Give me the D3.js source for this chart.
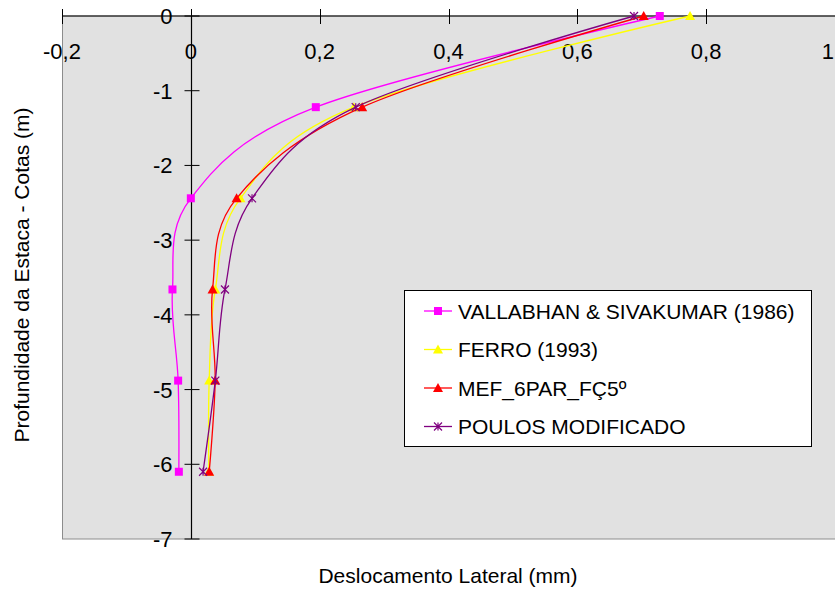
<!DOCTYPE html>
<html>
<head>
<meta charset="utf-8">
<script src="https://cdn.jsdelivr.net/npm/d3@7"></script>
<style>
  html, body { margin: 0; padding: 0; background: #ffffff; }
  svg { display: block; font-family: "Liberation Sans", Arial, sans-serif; }
</style>
</head>
<body>
<svg id="chart" width="835" height="594"></svg>
<script>
// Pile depth levels (m) and lateral displacement (mm) for each method
const depths = [0, -1.22, -2.44, -3.66, -4.88, -6.1];
const vallabhan = [0.728, 0.194, 0.0, -0.0285, -0.0197, -0.0186];
const ferro = [0.775, 0.253, 0.077, 0.038, 0.0285, 0.028];
const mef = [0.703, 0.266, 0.071, 0.0337, 0.0378, 0.0285];
const poulos = [0.688, 0.256, 0.095, 0.053, 0.038, 0.019];

const seriesNames = ["VALLABHAN & SIVAKUMAR (1986)", "FERRO (1993)", "MEF_6PAR_FÇ5º", "POULOS MODIFICADO"];
const xTicks = [-0.2, 0, 0.2, 0.4, 0.6, 0.8, 1];
const yTicks = [0, -1, -2, -3, -4, -5, -6, -7];

const series = [
  { name: seriesNames[0], values: vallabhan, color: "#ff00ff", marker: "square" },
  { name: seriesNames[1], values: ferro, color: "#ffff00", marker: "triangle" },
  { name: seriesNames[2], values: mef, color: "#ff0000", marker: "triangle" },
  { name: seriesNames[3], values: poulos, color: "#800080", marker: "star" }
];

const svg = d3.select("#chart");
const plotLeft = 62, plotRight = 835, plotTop = 16, plotBottom = 539;

const x = d3.scaleLinear().domain([-0.2, 1]).range([plotLeft, plotRight]);
const y = d3.scaleLinear().domain([0, -7]).range([plotTop, plotBottom]);

const fmt = v => (v === 0 ? "0" : d3.format(".1f")(v).replace("−", "-").replace(".", ",").replace(/,0$/, ""));

// plot area
svg.append("rect")
  .attr("x", plotLeft + 0.5).attr("y", plotTop)
  .attr("width", plotRight - plotLeft).attr("height", plotBottom - plotTop)
  .attr("fill", "#e1e1e1").attr("stroke", "#8c8c8c").attr("stroke-width", 1);

// horizontal axis along the top (depth 0)
const xAxisG = svg.append("g").attr("transform", `translate(0,${y(0)})`);
xAxisG.append("line").attr("x1", plotLeft).attr("x2", plotRight).attr("y1", 0).attr("y2", 0)
  .attr("stroke", "#000").attr("stroke-width", 1.2);
xAxisG.selectAll(".xt").data(xTicks).join("line")
  .attr("x1", d => Math.round(x(d)) + 0.5).attr("x2", d => Math.round(x(d)) + 0.5)
  .attr("y1", -7).attr("y2", 8).attr("stroke", "#000").attr("stroke-width", 1);
xAxisG.selectAll(".xl").data(xTicks).join("text")
  .attr("x", d => d === 1 ? x(d) - 1 : x(d)).attr("y", 43)
  .attr("text-anchor", d => d === 1 ? "end" : "middle")
  .attr("font-size", 22).attr("fill", "#000")
  .text(fmt);

// vertical axis at displacement 0
const yAxisG = svg.append("g").attr("transform", `translate(${Math.round(x(0)) + 0.5},0)`);
yAxisG.append("line").attr("x1", 0).attr("x2", 0).attr("y1", plotTop).attr("y2", plotBottom)
  .attr("stroke", "#000").attr("stroke-width", 1.2);
yAxisG.selectAll(".yt").data(yTicks).join("line")
  .attr("x1", -7).attr("x2", 8).attr("y1", d => y(d)).attr("y2", d => y(d))
  .attr("stroke", "#000").attr("stroke-width", 1);
yAxisG.selectAll(".yl").data(yTicks).join("text")
  .attr("x", -19).attr("y", d => y(d) + 8)
  .attr("text-anchor", "end").attr("font-size", 22).attr("fill", "#000")
  .text(d => d3.format("d")(d).replace("−", "-"));

// axis titles
svg.append("text").attr("x", 448).attr("y", 583).attr("text-anchor", "middle")
  .attr("font-size", 21).attr("fill", "#000").text("Deslocamento Lateral (mm)");
svg.append("text").attr("transform", "translate(29,275) rotate(-90)")
  .attr("text-anchor", "middle").attr("font-size", 21).attr("fill", "#000")
  .text("Profundidade da Estaca - Cotas (m)");

// markers
function drawMarker(g, type, color, cx, cy) {
  if (type === "square") {
    g.append("rect").attr("x", cx - 4).attr("y", cy - 4).attr("width", 8).attr("height", 8)
      .attr("fill", color);
  } else if (type === "triangle") {
    g.append("path").attr("d", `M${cx},${cy - 5}L${cx + 5},${cy + 4}L${cx - 5},${cy + 4}Z`)
      .attr("fill", color);
  } else {
    const s = 4;
    g.append("path")
      .attr("d", `M${cx - s},${cy - s}L${cx + s},${cy + s}M${cx - s},${cy + s}L${cx + s},${cy - s}M${cx},${cy - s}L${cx},${cy + s}`)
      .attr("stroke", color).attr("stroke-width", 1.2).attr("fill", "none");
  }
}

const line = d3.line()
  .x(d => x(d[0])).y(d => y(d[1]))
  .curve(d3.curveCatmullRom.alpha(0));

const plotG = svg.append("g");
series.forEach(s => {
  const pts = s.values.map((v, i) => [v, depths[i]]);
  plotG.append("path").datum(pts).attr("d", line)
    .attr("fill", "none").attr("stroke", s.color).attr("stroke-width", 1.3);
  pts.forEach(p => drawMarker(plotG, s.marker, s.color, x(p[0]), y(p[1])));
});

// legend
const legend = svg.append("g");
legend.append("rect").attr("x", 404.5).attr("y", 290.5).attr("width", 407).attr("height", 156)
  .attr("fill", "#fff").attr("stroke", "#000").attr("stroke-width", 1);
series.forEach((s, i) => {
  const cy = 311 + i * 38.5;
  const lg = legend.append("g");
  lg.append("line").attr("x1", 424).attr("x2", 452).attr("y1", cy).attr("y2", cy)
    .attr("stroke", s.color).attr("stroke-width", 1.3);
  drawMarker(lg, s.marker, s.color, 438, cy);
  lg.append("text").attr("x", 458).attr("y", cy + 7.5).attr("font-size", 21)
    .attr("fill", "#000").text(s.name);
});
</script>
</body>
</html>
